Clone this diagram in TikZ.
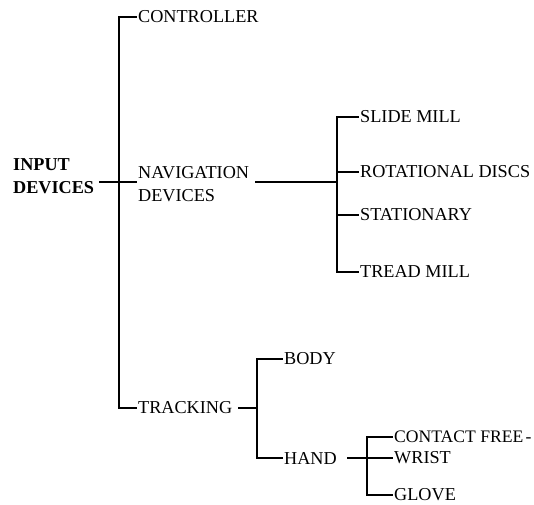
\documentclass[tikz,border=0pt]{standalone}
\usepackage{fontspec}
\setmainfont{Liberation Serif}
\begin{document}
\begin{tikzpicture}[x=1pt,y=-1pt,
  lbl/.style={font=\fontsize{18.2}{22.5}\selectfont, anchor=west, inner sep=2pt},
  root/.style={lbl, font=\fontsize{18.2}{22.5}\selectfont\bfseries, align=left},
  br/.style={line width=2.1pt, line cap=rect}]
\useasboundingbox (0,0) rectangle (534,504);

% labels
\node[root] (input) at (11,176) {INPUT\\DEVICES};
\node[lbl] (ctrl) at (136,17) {CONTROLLER};
\node[lbl, align=left] (nav) at (136,184) {NAVIGATION\\DEVICES};
\node[lbl] (track) at (136,408) {TRACKING};
\node[lbl] (slide) at (358,117) {SLIDE MILL};
\node[lbl] (rot) at (358,172) {ROTATIONAL DISCS};
\node[lbl] (stat) at (358,215) {STATIONARY};
\node[lbl] (tread) at (358,272) {TREAD MILL};
\node[lbl] (body) at (282,359) {BODY};
\node[lbl] (hand) at (282,458) {HAND};
\node[lbl, inner xsep=0pt, font=\fontsize{17.6}{22}\selectfont] (contact) at (394,437) {CONTACT FREE\kern-2pt\ -};
\node[lbl] (wrist) at (392,458) {WRIST};
\node[lbl] (glove) at (392,495) {GLOVE};

% junctions
\coordinate (jin) at (119,182);
\coordinate (jnav) at (337,182);
\coordinate (jtr) at (257,408);
\coordinate (jhd) at (367,458);

% main trunk
\draw[br] (ctrl.west) -| (jin) |- (track.west);
\draw[br] ([xshift=4pt]input.east |- jin) -- (nav.west |- jin);

% navigation devices
\draw[br] ([xshift=5pt]nav.east |- jnav) -- (jnav);
\draw[br] (slide.west) -| (jnav) |- (tread.west);
\draw[br] (rot.west) -- (rot.west -| jnav);
\draw[br] (stat.west) -- (stat.west -| jnav);

% tracking
\draw[br] ([xshift=5pt]track.east) -- (jtr);
\draw[br] (body.west) -| (jtr) |- (hand.west);

% hand
\draw[br] ([xshift=9pt]hand.east) -- (jhd);
\draw[br] ([xshift=-2pt]contact.west) -| (jhd) |- (glove.west);
\draw[br] (wrist.west) -- (jhd);
\end{tikzpicture}
\end{document}
